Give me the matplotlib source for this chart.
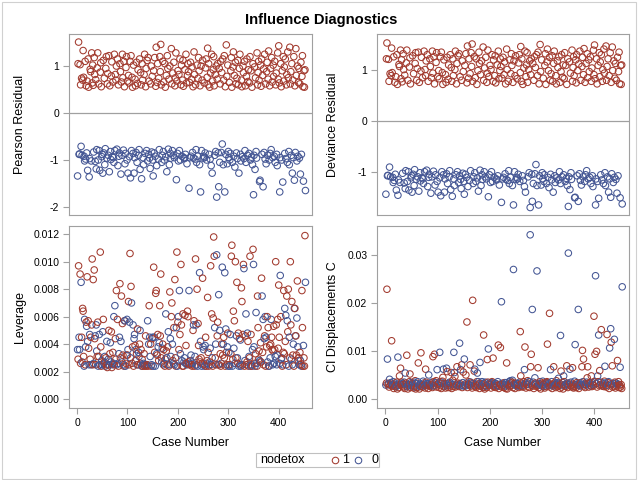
import numpy as np
import matplotlib
matplotlib.use("Agg")
import matplotlib.pyplot as plt
from matplotlib.patches import Rectangle
from matplotlib.lines import Line2D
from matplotlib.ticker import FormatStrFormatter, FixedLocator

plt.rcParams['font.family'] = ['Liberation Sans', 'DejaVu Sans']

# ---------------- data (case order) ----------------
nodetox = [
    0,1,1,0,0,1,1,0,1,0, 1,1,1,0,0,1,0,1,0,1, 0,1,1,0,0,1,1,0,1,1, 1,1,0,1,1,0,1,0,0,1,
    1,0,1,0,0,1,1,1,0,0, 0,1,0,1,0,0,1,1,0,1, 1,0,1,0,1,0,0,1,1,0, 1,0,0,1,0,1,1,1,0,1,
    0,1,0,0,1,1,0,1,0,1, 1,0,1,1,0,0,1,1,0,1, 0,1,1,0,1,0,1,0,1,1, 0,1,0,0,1,1,0,1,0,1,
    1,0,0,1,0,1,1,0,1,1, 0,0,1,1,0,1,1,0,1,0, 1,0,1,0,0,1,1,0,1,0, 0,1,0,1,0,1,1,0,1,1,
    0,1,0,1,1,1,1,0,0,1, 0,1,0,1,1,0,1,0,1,1, 0,1,0,1,0,0,1,1,0,1, 0,1,0,1,1,1,0,1,0,1,
    0,1,0,1,0,1,1,0,1,1, 1,0,0,1,0,1,1,0,1,1, 1,0,1,0,1,0,1,1,0,1, 0,1,1,0,1,0,0,1,0,1,
    1,1,0,1,0,1,0,1,1,0, 0,1,0,0,1,1,0,1,1,1, 1,0,1,0,1,0,1,0,1,1, 1,1,0,1,0,1,0,1,1,0,
    0,1,0,1,1,0,1,0,1,0, 1,1,0,1,0,1,1,0,1,0, 0,1,0,0,1,1,1,0,1,1, 0,1,0,1,1,0,1,0,1,1,
    0,1,1,0,0,1,1,0,1,1, 0,1,0,1,0,1,1,0,1,1, 0,1,1,0,1,0,1,0,1,0, 0,1,0,1,0,0,1,1,1,1,
    1,0,0,1,1,1,0,1,0,1, 0,1,0,1,0,1,1,0,1,1, 0,1,0,1,0,1,1,0,1,1, 0,1,0,1,1,0,0,1,1,1,
    1,0,0,1,1,0,1,0,1,1, 1,0,1,0,1,1,0,1,1,0, 0,1,1,1,0,1,0,1,0,1, 0,1,0,1,1,0,1,0,1,1,
    0,1,0,1,0,1,1,1,0,1,1,1,0,
]

pearson = [
    -1.34,1.05,1.51,-0.88,-0.87,1.03,0.60,-0.71,0.74,-0.90,
    0.70,1.33,0.76,-0.92,-1.02,1.10,-0.98,0.58,-0.85,0.68,
    -1.22,1.15,0.55,-1.36,-0.97,0.93,0.88,-1.02,1.28,0.64,
    1.02,0.59,-0.83,1.18,0.82,-1.03,0.71,-1.19,-0.78,0.96,
    1.28,-1.00,0.62,-0.80,-1.22,0.87,1.07,0.56,-0.93,-0.88,
    -1.28,1.12,-0.85,0.74,-1.10,-0.76,0.95,1.20,-0.96,0.62,
    0.84,-0.90,1.22,-1.25,0.58,-0.82,-0.99,0.79,1.09,-0.93,
    0.66,-0.95,-1.05,1.25,-0.80,0.82,0.70,1.00,-0.77,1.15,
    -1.12,0.60,-0.92,-0.85,1.05,0.88,-1.30,0.66,-0.90,1.25,
    0.75,-0.79,1.10,0.56,-1.08,-0.86,0.97,1.20,-1.00,0.68,
    -1.28,0.80,0.64,-0.93,1.10,-1.38,1.22,-0.80,0.76,0.55,
    -0.86,1.02,-1.28,-0.95,0.72,0.58,-0.84,1.08,-1.05,0.63,
    0.92,-0.90,-0.78,1.15,-1.20,0.86,0.60,-1.40,1.05,0.70,
    -0.95,-1.10,0.82,1.25,-0.86,0.56,0.95,-0.80,1.12,-1.02,
    1.18,-0.88,0.68,-0.96,-1.18,0.62,1.00,-0.83,0.78,-1.00,
    -1.34,0.90,-0.85,1.18,-0.92,0.57,1.40,-1.12,0.65,1.05,
    -0.98,0.74,-0.78,1.20,0.88,1.46,0.60,-1.05,-0.90,1.10,
    -0.82,0.66,-1.00,1.05,0.55,-0.93,0.80,-1.25,1.22,0.95,
    -0.77,0.72,-1.10,1.00,-0.86,-0.96,1.37,0.62,-0.80,0.85,
    -0.90,1.08,-0.95,0.58,0.75,1.28,-1.42,0.68,-0.86,0.90,
    -1.02,0.82,-0.80,1.15,-1.00,0.60,1.02,-0.92,0.70,1.12,
    0.57,-0.95,-0.97,0.92,-0.88,1.25,0.64,-1.08,0.80,1.05,
    0.88,-1.60,0.65,-0.95,1.08,-0.92,0.72,0.98,-0.84,0.56,
    -0.96,1.30,0.82,-0.98,0.60,-0.78,-1.05,1.02,-0.92,0.74,
    1.18,0.90,-1.10,0.58,-1.68,1.00,-0.80,0.70,1.12,-0.96,
    -0.92,0.64,-0.95,-0.85,0.96,1.15,-1.00,0.76,1.38,0.60,
    1.05,-0.88,0.55,-0.98,0.85,-1.12,1.25,-1.28,0.68,0.92,
    1.20,0.58,-0.90,0.82,-0.82,1.00,-1.79,0.72,1.05,-0.85,
    -1.57,0.95,-1.05,0.62,1.10,-0.84,0.86,-0.66,1.15,-1.10,
    0.70,1.22,-1.68,0.56,-0.88,1.45,0.78,-1.08,1.02,-0.82,
    -0.95,0.65,-1.00,-0.86,0.90,1.18,0.55,-1.05,0.98,1.30,
    -0.92,0.80,-1.15,1.08,0.62,-0.85,0.74,-0.97,1.12,0.60,
    -1.28,0.95,1.25,-0.88,-1.02,0.70,0.56,-0.93,1.00,0.86,
    -0.97,1.10,-0.80,0.58,-1.05,0.78,1.15,-0.90,0.67,0.92,
    -0.86,0.64,1.20,-1.00,0.90,-0.94,0.55,-1.10,1.05,-1.74,
    -0.90,0.98,-1.20,0.75,-0.82,-0.96,1.28,0.60,0.86,1.10,
    0.70,-1.46,-1.43,1.02,0.57,1.15,-0.88,0.80,-1.57,0.94,
    -0.84,1.25,-0.98,0.62,-1.08,0.88,1.08,-0.90,0.72,1.32,
    -1.00,0.58,-0.86,0.95,-0.78,1.18,0.66,-0.95,1.02,0.78,
    -0.92,1.10,-1.05,0.60,0.85,-0.88,-1.12,1.28,0.72,1.43,
    0.64,-1.68,-0.95,1.05,0.56,-1.00,0.90,-1.47,1.20,0.68,
    0.98,-0.86,1.15,-0.97,0.60,0.82,-1.05,1.30,0.75,-0.82,
    -1.10,1.40,0.62,0.88,-0.90,1.05,-1.28,0.70,-0.95,1.20,
    -1.43,0.58,-0.84,1.37,0.80,-1.02,1.00,-0.92,0.65,0.95,
    -0.96,0.62,-1.30,1.08,-0.88,0.78,1.22,0.56,-1.45,0.90,0.55,0.92,-1.65,
]

deviance = [
    -1.43,1.22,1.53,-1.07,-1.06,1.21,0.78,-0.90,0.93,-1.09,
    0.89,1.43,0.95,-1.10,-1.20,1.26,-1.16,0.76,-1.04,0.87,
    -1.35,1.30,0.72,-1.45,-1.15,1.11,1.07,-1.20,1.39,0.83,
    1.20,0.77,-1.02,1.32,1.01,-1.21,0.90,-1.32,-0.97,1.14,
    1.39,-1.18,0.80,-0.99,-1.35,1.06,1.24,0.73,-1.11,-1.07,
    -1.39,1.28,-1.04,0.93,-1.26,-0.95,1.13,1.34,-1.14,0.80,
    1.03,-1.09,1.35,-1.37,0.76,-1.01,-1.17,0.98,1.25,-1.11,
    0.85,-1.13,-1.22,1.37,-0.99,1.01,0.89,1.18,-0.96,1.30,
    -1.28,0.78,-1.10,-1.04,1.22,1.07,-1.41,0.85,-1.09,1.37,
    0.94,-0.98,1.26,0.73,-1.25,-1.05,1.15,1.34,-1.18,0.87,
    -1.39,0.99,0.83,-1.11,1.26,-1.46,1.35,-0.99,0.95,0.72,
    -1.05,1.20,-1.39,-1.13,0.91,0.76,-1.03,1.25,-1.22,0.82,
    1.10,-1.09,-0.97,1.30,-1.34,1.05,0.78,-1.47,1.22,0.89,
    -1.13,-1.26,1.01,1.37,-1.05,0.73,1.13,-0.99,1.28,-1.20,
    1.32,-1.07,0.87,-1.14,-1.32,0.80,1.18,-1.02,0.97,-1.18,
    -1.43,1.09,-1.04,1.32,-1.10,0.75,1.47,-1.28,0.84,1.22,
    -1.16,0.93,-0.97,1.34,1.07,1.51,0.78,-1.22,-1.09,1.26,
    -1.01,0.85,-1.18,1.22,0.72,-1.11,0.99,-1.37,1.35,1.13,
    -0.96,0.91,-1.26,1.18,-1.05,-1.14,1.45,0.80,-0.99,1.04,
    -1.09,1.25,-1.13,0.76,0.94,1.39,-1.48,0.87,-1.05,1.09,
    -1.20,1.01,-0.99,1.30,-1.18,0.78,1.20,-1.10,0.89,1.28,
    0.75,-1.13,-1.15,1.10,-1.07,1.37,0.83,-1.25,0.99,1.22,
    1.07,-1.59,0.84,-1.13,1.25,-1.10,0.91,1.16,-1.03,0.73,
    -1.14,1.41,1.01,-1.16,0.78,-0.97,-1.22,1.20,-1.10,0.93,
    1.32,1.09,-1.26,0.76,-1.64,1.18,-0.99,0.89,1.28,-1.14,
    -1.10,0.83,-1.13,-1.04,1.14,1.30,-1.18,0.95,1.46,0.78,
    1.22,-1.07,0.72,-1.16,1.04,-1.28,1.37,-1.39,0.87,1.10,
    1.34,0.76,-1.09,1.01,-1.01,1.18,-1.69,0.91,1.22,-1.04,
    -1.57,1.13,-1.22,0.80,1.26,-1.03,1.05,-0.85,1.30,-1.26,
    0.89,1.35,-1.64,0.73,-1.07,1.50,0.97,-1.25,1.20,-1.01,
    -1.13,0.84,-1.18,-1.05,1.09,1.32,0.72,-1.22,1.16,1.41,
    -1.10,0.99,-1.30,1.25,0.80,-1.04,0.93,-1.15,1.28,0.78,
    -1.39,1.13,1.37,-1.07,-1.20,0.89,0.73,-1.11,1.18,1.05,
    -1.15,1.26,-0.99,0.76,-1.22,0.97,1.30,-1.09,0.86,1.10,
    -1.05,0.83,1.34,-1.18,1.09,-1.12,0.72,-1.26,1.22,-1.67,
    -1.09,1.16,-1.34,0.94,-1.01,-1.14,1.39,0.78,1.05,1.26,
    0.89,-1.50,-1.49,1.20,0.75,1.30,-1.07,0.99,-1.57,1.12,
    -1.03,1.37,-1.16,0.80,-1.25,1.07,1.25,-1.09,0.91,1.42,
    -1.18,0.76,-1.05,1.13,-0.97,1.32,0.85,-1.13,1.20,0.97,
    -1.10,1.26,-1.22,0.78,1.04,-1.07,-1.28,1.39,0.91,1.49,
    0.83,-1.64,-1.13,1.22,0.73,-1.18,1.09,-1.51,1.34,0.87,
    1.16,-1.05,1.30,-1.15,0.78,1.01,-1.22,1.41,0.94,-1.01,
    -1.26,1.47,0.80,1.07,-1.09,1.22,-1.39,0.89,-1.13,1.34,
    -1.49,0.76,-1.03,1.45,0.99,-1.20,1.18,-1.10,0.84,1.13,
    -1.14,0.80,-1.41,1.25,-1.07,0.97,1.35,0.73,-1.50,1.09,0.72,1.10,-1.62,
]

leverage = [
    .0036,.0029,.0097,.0045,.0036,.0091,.0026,.0085,.0045,.0027,
    .0066,.0064,.0031,.0024,.0058,.0025,.0038,.0056,.0053,.0089,
    .0042,.0057,.0037,.0025,.0047,.0029,.0045,.0025,.0054,.0102,
    .0025,.0087,.0026,.0094,.0044,.0046,.0025,.0054,.0035,.0031,
    .0056,.0024,.0031,.0047,.0025,.0107,.0038,.0024,.0028,.0025,
    .0049,.0058,.0026,.0027,.0031,.0024,.0030,.0025,.0042,.0023,
    .0025,.0029,.0050,.0025,.0033,.0041,.0027,.0049,.0023,.0025,
    .0034,.0026,.0060,.0025,.0068,.0044,.0029,.0079,.0025,.0058,
    .0026,.0024,.0033,.0045,.0084,.0030,.0042,.0075,.0027,.0055,
    .0032,.0025,.0024,.0057,.0057,.0024,.0026,.0032,.0058,.0032,
    .0036,.0071,.0025,.0056,.0106,.0030,.0082,.0070,.0026,.0038,
    .0054,.0024,.0044,.0047,.0039,.0028,.0036,.0033,.0025,.0051,
    .0025,.0034,.0031,.0040,.0050,.0026,.0036,.0024,.0029,.0024,
    .0025,.0026,.0033,.0024,.0025,.0046,.0024,.0025,.0025,.0057,
    .0024,.0040,.0068,.0045,.0031,.0040,.0024,.0025,.0044,.0045,
    .0024,.0096,.0045,.0034,.0024,.0077,.0079,.0033,.0032,.0047,
    .0038,.0028,.0041,.0068,.0046,.0091,.0030,.0027,.0037,.0040,
    .0025,.0036,.0026,.0024,.0029,.0062,.0035,.0030,.0025,.0038,
    .0049,.0024,.0025,.0078,.0044,.0031,.0060,.0070,.0040,.0028,
    .0026,.0052,.0025,.0087,.0030,.0024,.0052,.0107,.0024,.0056,
    .0060,.0036,.0079,.0047,.0033,.0098,.0054,.0028,.0024,.0062,
    .0024,.0027,.0030,.0061,.0026,.0039,.0026,.0025,.0064,.0060,
    .0027,.0079,.0025,.0026,.0028,.0032,.0025,.0024,.0026,.0050,
    .0054,.0057,.0024,.0031,.0102,.0054,.0025,.0080,.0024,.0055,
    .0039,.0029,.0092,.0027,.0042,.0030,.0024,.0026,.0088,.0038,
    .0036,.0025,.0024,.0039,.0045,.0024,.0026,.0028,.0074,.0034,
    .0024,.0025,.0027,.0037,.0097,.0025,.0062,.0030,.0024,.0059,
    .0118,.0104,.0052,.0030,.0040,.0025,.0105,.0046,.0056,.0025,
    .0076,.0025,.0050,.0033,.0024,.0026,.0040,.0096,.0032,.0040,
    .0045,.0030,.0092,.0024,.0051,.0034,.0025,.0038,.0048,.0024,
    .0034,.0025,.0024,.0047,.0033,.0104,.0112,.0024,.0029,.0064,
    .0037,.0057,.0026,.0100,.0030,.0046,.0085,.0030,.0026,.0048,
    .0024,.0044,.0025,.0043,.0024,.0081,.0071,.0025,.0047,.0098,
    .0095,.0024,.0028,.0046,.0062,.0025,.0027,.0048,.0042,.0024,
    .0031,.0030,.0104,.0024,.0047,.0025,.0024,.0036,.0109,.0098,
    .0038,.0026,.0024,.0033,.0063,.0026,.0024,.0075,.0052,.0029,
    .0035,.0028,.0027,.0041,.0027,.0088,.0075,.0034,.0058,.0025,
    .0044,.0046,.0060,.0024,.0045,.0038,.0060,.0027,.0052,.0024,
    .0024,.0039,.0030,.0040,.0058,.0045,.0036,.0025,.0035,.0053,
    .0026,.0036,.0031,.0100,.0054,.0025,.0032,.0058,.0037,.0083,
    .0045,.0026,.0090,.0060,.0029,.0030,.0024,.0025,.0034,.0079,
    .0033,.0066,.0042,.0061,.0025,.0075,.0057,.0049,.0080,.0024,
    .0045,.0030,.0100,.0054,.0029,.0071,.0025,.0032,.0040,.0024,
    .0066,.0066,.0046,.0046,.0032,.0059,.0086,.0038,.0028,.0030,
    .0025,.0034,.0028,.0025,.0024,.0079,.0052,.0024,.0039,.0030,.0024,.0119,.0085,
]

ci_disp = [
    .0029,.0033,.0228,.0083,.0030,.0032,.0025,.0041,.0029,.0034,
    .0031,.0121,.0027,.0029,.0036,.0022,.0030,.0026,.0033,.0028,
    .0026,.0035,.0021,.0087,.0029,.0024,.0048,.0031,.0064,.0030,
    .0035,.0027,.0032,.0030,.0025,.0035,.0022,.0054,.0030,.0033,
    .0091,.0026,.0021,.0030,.0029,.0036,.0052,.0024,.0034,.0028,
    .0030,.0033,.0027,.0023,.0035,.0025,.0038,.0021,.0032,.0025,
    .0024,.0036,.0075,.0028,.0021,.0031,.0026,.0096,.0027,.0030,
    .0025,.0037,.0033,.0029,.0027,.0023,.0062,.0035,.0032,.0028,
    .0031,.0022,.0050,.0028,.0030,.0026,.0033,.0029,.0035,.0024,
    .0088,.0027,.0036,.0093,.0029,.0034,.0038,.0025,.0061,.0031,
    .0030,.0034,.0024,.0097,.0028,.0036,.0022,.0033,.0037,.0045,
    .0062,.0026,.0031,.0027,.0023,.0032,.0064,.0057,.0028,.0024,
    .0033,.0029,.0035,.0025,.0033,.0055,.0022,.0030,.0039,.0026,
    .0097,.0055,.0047,.0025,.0031,.0028,.0067,.0028,.0033,.0030,
    .0026,.0116,.0032,.0061,.0028,.0071,.0024,.0034,.0056,.0027,
    .0083,.0029,.0027,.0050,.0033,.0160,.0024,.0030,.0031,.0036,
    .0029,.0071,.0035,.0027,.0033,.0023,.0205,.0032,.0028,.0058,
    .0062,.0026,.0031,.0024,.0036,.0054,.0028,.0036,.0032,.0022,
    .0076,.0027,.0029,.0031,.0036,.0025,.0024,.0133,.0032,.0021,
    .0035,.0028,.0027,.0024,.0082,.0035,.0104,.0030,.0033,.0029,
    .0030,.0023,.0034,.0036,.0028,.0085,.0026,.0031,.0033,.0025,
    .0024,.0032,.0028,.0028,.0036,.0112,.0022,.0027,.0030,.0107,
    .0031,.0202,.0025,.0033,.0029,.0030,.0024,.0034,.0027,.0022,
    .0034,.0075,.0021,.0028,.0030,.0032,.0036,.0026,.0038,.0033,
    .0028,.0035,.0039,.0024,.0269,.0031,.0030,.0022,.0033,.0028,
    .0029,.0031,.0032,.0027,.0024,.0029,.0035,.0140,.0048,.0026,
    .0033,.0028,.0025,.0030,.0036,.0061,.0108,.0033,.0023,.0030,
    .0034,.0038,.0031,.0025,.0036,.0024,.0341,.0067,.0093,.0029,
    .0186,.0027,.0035,.0022,.0030,.0044,.0033,.0031,.0026,.0266,
    .0028,.0065,.0030,.0024,.0032,.0036,.0021,.0029,.0033,.0027,
    .0037,.0031,.0026,.0030,.0023,.0034,.0026,.0033,.0036,.0114,
    .0028,.0034,.0031,.0178,.0025,.0061,.0029,.0036,.0022,.0030,
    .0027,.0067,.0033,.0029,.0030,.0024,.0038,.0034,.0026,.0031,
    .0043,.0028,.0033,.0022,.0132,.0058,.0025,.0029,.0034,.0021,
    .0048,.0036,.0030,.0028,.0026,.0031,.0069,.0033,.0024,.0303,
    .0030,.0033,.0062,.0027,.0035,.0028,.0025,.0065,.0031,.0023,
    .0026,.0037,.0113,.0030,.0024,.0034,.0031,.0028,.0186,.0022,
    .0033,.0029,.0027,.0034,.0030,.0067,.0101,.0036,.0083,.0027,
    .0031,.0024,.0029,.0030,.0035,.0044,.0067,.0032,.0025,.0034,
    .0029,.0033,.0027,.0048,.0026,.0034,.0030,.0028,.0172,.0036,
    .0093,.0256,.0032,.0099,.0025,.0048,.0036,.0133,.0028,.0059,
    .0030,.0035,.0144,.0028,.0027,.0031,.0033,.0026,.0037,.0068,
    .0033,.0028,.0025,.0134,.0029,.0034,.0036,.0022,.0106,.0031,
    .0146,.0118,.0030,.0069,.0025,.0032,.0027,.0124,.0035,.0023,
    .0033,.0027,.0030,.0080,.0031,.0036,.0024,.0029,.0066,.0025,.0030,.0022,.0233,
]

group_labels = ['1', '0']
RED = '#A23A2E'
BLUE = '#445694'
FRAME = '#A0A0A0'

n = min(len(nodetox), len(pearson), len(deviance), len(leverage), len(ci_disp))
case = np.arange(1, n + 1)
colors = [RED if g == 1 else BLUE for g in nodetox[:n]]

W, H = 640, 480
fig = plt.figure(figsize=(6.4, 4.8), dpi=100)
fig.patch.set_facecolor('white')


def axes_px(l, t, r, b):
    return fig.add_axes([l / W, 1 - b / H, (r - l) / W, (b - t) / H])


def style(ax, show_x):
    for sp in ax.spines.values():
        sp.set_color(FRAME)
        sp.set_linewidth(0.8)
    ax.tick_params(axis='both', direction='out', length=4, width=0.8,
                   color=FRAME, labelsize=7.5, labelcolor='black', pad=3)
    ax.set_xlim(-16, 466)
    if show_x:
        ax.xaxis.set_major_locator(FixedLocator([0, 100, 200, 300, 400]))
        ax.set_xlabel('Case Number', fontsize=9, va='center')
        ax.xaxis.set_label_coords(0.5, (408 - 442.5) / 182)
    else:
        ax.set_xticks([])


panels = [
    # (l, t, r, b, values, ylabel, ylim, yticks, fmt, zero, show_x, label_x)
    (69, 34, 312, 215, pearson, 'Pearson Residual', (-2.171, 1.682), [-2, -1, 0, 1], '%d', True, False, 20),
    (377, 34, 629, 215, deviance, 'Deviance Residual', (-1.837, 1.706), [-1, 0, 1], '%d', True, False, 333),
    (69, 226, 312, 408, leverage, 'Leverage', (-0.00065, 0.0126), [0, .002, .004, .006, .008, .010, .012], '%.3f', False, True, 20),
    (377, 226, 629, 408, ci_disp, 'CI Displacements C', (-0.00186, 0.03593), [0, .01, .02, .03], '%.2f', False, True, 333),
]

for (l, t, r, b, vals, ylab, ylim, yt, fmt, zero, show_x, lx) in panels:
    ax = axes_px(l, t, r, b)
    style(ax, show_x)
    if zero:
        ax.axhline(0, color=FRAME, linewidth=0.9, zorder=1)
    ax.scatter(case, vals[:n], s=22, facecolors='none', edgecolors=colors,
               linewidths=0.75, zorder=2)
    ax.set_ylim(*ylim)
    ax.yaxis.set_major_locator(FixedLocator(yt))
    ax.yaxis.set_major_formatter(FormatStrFormatter(fmt))
    ax.set_ylabel(ylab, fontsize=9, va='center')
    ax.yaxis.set_label_coords((lx - l) / (r - l), 0.5)

# title
fig.text(321 / W, 1 - 20 / H, 'Influence Diagnostics', ha='center', va='center',
         fontsize=10.6, fontweight='bold')

# legend (drawn manually, SAS style)
lx0, lx1, ly0, ly1 = 255.7, 379.3, 453.3, 467.3
fig.add_artist(Rectangle((lx0 / W, 1 - ly1 / H), (lx1 - lx0) / W, (ly1 - ly0) / H,
                         transform=fig.transFigure, fill=False, edgecolor='#C0C0C0',
                         linewidth=0.8))
ymid = 1 - 460.3 / H
fig.text(260.5 / W, ymid, 'nodetox', ha='left', va='center', fontsize=9)
for mx, tx, col, lab in [(334.5, 342.5, RED, group_labels[0]), (358.0, 371.5, BLUE, group_labels[1])]:
    fig.add_artist(Line2D([mx / W], [ymid], transform=fig.transFigure, marker='o',
                          markersize=4.7, markerfacecolor='none', markeredgecolor=col,
                          markeredgewidth=0.75, linestyle='none'))
    fig.text(tx / W, ymid, lab, ha='left', va='center', fontsize=9)

# outer border
fig.add_artist(Rectangle((1.5 / W, 1 - 478.5 / H), (636 - 1.5) / W, (478.5 - 1.5) / H,
                         transform=fig.transFigure, fill=False, edgecolor='#D0D0D0',
                         linewidth=0.8))

fig.savefig('out.png', dpi=100, facecolor='white')
